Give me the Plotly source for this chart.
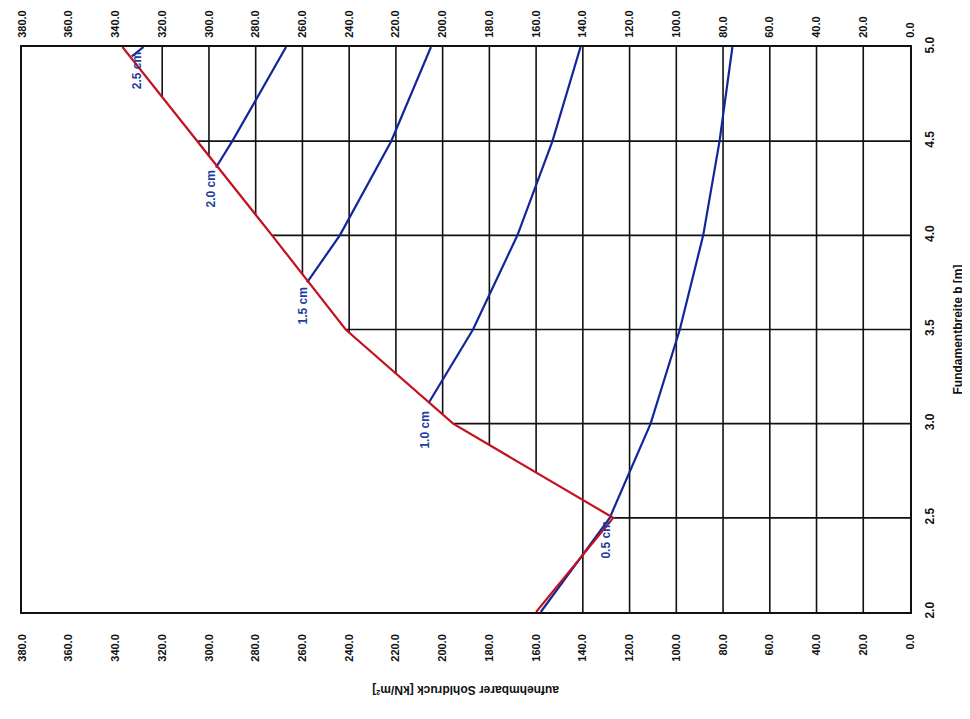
import numpy as np
import plotly.graph_objects as go

# ---------------- data ----------------
b_ticks = [2.0, 2.5, 3.0, 3.5, 4.0, 4.5, 5.0]          # Fundamentbreite b [m]
q_ticks = list(range(0, 381, 20))                       # Sohldruck [kN/m²]

# red envelope (Grundbruch-Grenze)
red_b = [2.0, 2.5, 3.0, 3.5, 4.0, 4.5, 5.0]
red_q = [160.0, 127.0, 195.5, 241.5, 273.0, 305.0, 337.0]

# settlement curves (blue)
s05_b = [2.0, 2.5, 3.0, 3.5, 4.0, 4.5, 5.0]
s05_q = [158.0, 128.5, 111.0, 98.5, 88.5, 81.5, 76.0]
s10_b = [3.11, 3.5, 4.0, 4.5, 5.0]
s10_q = [206.0, 187.0, 168.0, 153.0, 141.0]
s15_b = [3.75, 4.0, 4.5, 5.0]
s15_q = [258.0, 244.0, 222.0, 205.0]
s20_b = [4.36, 4.5, 5.0]
s20_q = [297.0, 290.0, 267.0]
s25_b = [4.95, 5.0]
s25_q = [333.0, 328.0]
curve_labels = ["0.5 cm", "1.0 cm", "1.5 cm", "2.0 cm", "2.5 cm"]

# ---------------- styles ----------------
RED = "#c4121f"
BLUE = "#13259a"
LBL_BLUE = "#1f3c9e"
FONT = "Liberation Sans"
NARROW = "Liberation Sans Narrow, Liberation Sans, Arial Narrow, sans-serif"

fig = go.Figure()

# ----- grid lines clipped by the envelope -----
rb = np.array(red_b)
rq = np.array(red_q)
i_min = int(np.argmin(rq))
up_b, up_q = rb[i_min:], rq[i_min:]

gx, gy = [], []
for q in q_ticks[1:-1]:
    if q > rq[-1]:
        continue
    if q >= rq[0]:
        b_end = float(np.interp(q, up_q, up_b))
    else:
        b_end = b_ticks[0]
    gx += [q, q, None]
    gy += [b_ticks[-1], b_end, None]
for b in b_ticks[1:-1]:
    q_start = float(np.interp(b, rb, rq))
    gx += [q_start, 0, None]
    gy += [b, b, None]

fig.add_trace(go.Scatter(x=gx, y=gy, mode="lines",
                         line=dict(color="#111111", width=1.6),
                         hoverinfo="skip", showlegend=False))

# ----- settlement curves -----
curves = [(s05_b, s05_q), (s10_b, s10_q), (s15_b, s15_q), (s20_b, s20_q), (s25_b, s25_q)]
for cb, cq in curves:
    fig.add_trace(go.Scatter(x=cq, y=cb, mode="lines",
                             line=dict(color=BLUE, width=2.2),
                             showlegend=False))

# ----- envelope -----
fig.add_trace(go.Scatter(x=red_q, y=red_b, mode="lines",
                         line=dict(color=RED, width=2.2),
                         showlegend=False))

# invisible trace on top axis
fig.add_trace(go.Scatter(x=[q_ticks[0]], y=[b_ticks[0]], xaxis="x2", mode="markers",
                         marker=dict(opacity=0), showlegend=False, hoverinfo="skip"))

# ----- curve labels -----
label_pts = [(s05_q[1], s05_b[1]), (s10_q[0], s10_b[0]), (s15_q[0], s15_b[0]),
             (s20_q[0], s20_b[0]), (s25_q[0], s25_b[0])]
label_shift = [(-4, -22), (-4, -27), (-4, -24), (-5, -21), (6, -14)]
for txt, (q, b), (dx, dy) in zip(curve_labels, label_pts, label_shift):
    fig.add_annotation(x=q, y=b, text=txt, showarrow=False, textangle=-90,
                       xanchor="center", yanchor="middle", xshift=dx, yshift=dy,
                       font=dict(family=FONT, size=12, color=LBL_BLUE, weight="bold"))

# ----- axis titles -----
fig.add_annotation(x=0.5, y=0, xref="paper", yref="paper", yshift=-78,
                   text="aufnehmbarer Sohldruck [kN/m²]", showarrow=False, textangle=180,
                   xanchor="center", yanchor="middle",
                   font=dict(family=FONT, size=12, color="#111111", weight="bold"))
fig.add_annotation(x=1, y=0.5, xref="paper", yref="paper", xshift=47,
                   text="Fundamentbreite b [m]", showarrow=False, textangle=-90,
                   xanchor="center", yanchor="middle",
                   font=dict(family=NARROW, size=12, color="#111111", weight="bold"))

qtxt = [f"{v:.1f}" for v in q_ticks]
btxt = [f"{v:.1f}" for v in b_ticks]
xaxis_common = dict(range=[380, 0], tickvals=q_ticks, ticktext=qtxt, tickangle=-90,
                    showgrid=False, zeroline=False, ticks="outside", ticklen=0,
                    automargin=False,
                    tickfont=dict(family=FONT, size=11, color="#111111", weight="bold"))

# the page adds an 8px body margin, so the figure is 8px smaller and shifted
fig.update_layout(
    width=962, height=711,
    margin=dict(l=14, r=60, t=39, b=107),
    paper_bgcolor="white", plot_bgcolor="white",
    xaxis=dict(**xaxis_common, side="bottom", showline=True, mirror=True,
               linecolor="#111111", linewidth=1.6, ticklabelstandoff=16),
    xaxis2=dict(**xaxis_common, side="top", overlaying="x", ticklabelstandoff=6),
    yaxis=dict(range=[2, 5], tickvals=b_ticks, ticktext=btxt, side="right",
               tickangle=-90, showgrid=False, zeroline=False, showline=True, mirror=True,
               linecolor="#111111", linewidth=1.6, ticks="outside", ticklen=0,
               ticklabelstandoff=8, automargin=False,
               tickfont=dict(family=NARROW, size=12, color="#111111", weight="bold")),
)

fig.write_html("out.html")
